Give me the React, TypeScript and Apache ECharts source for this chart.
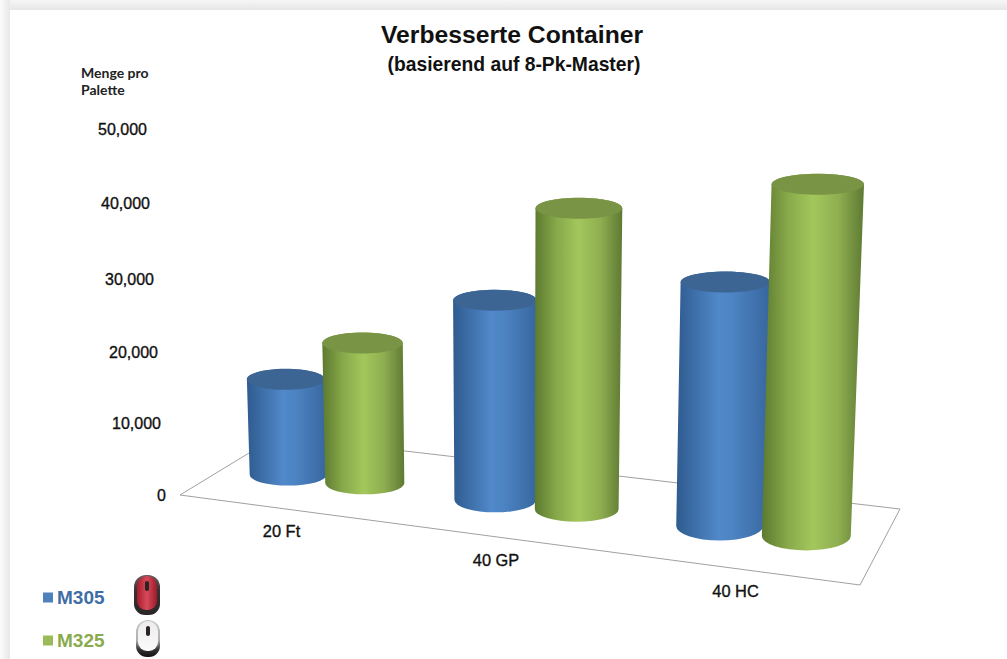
import React, { useEffect, useRef } from "react";
import * as echarts from "echarts";

const CATEGORIES = ["20 Ft", "40 GP", "40 HC"];
const M305 = [13700, 27000, 31000];
const M325 = [20200, 40700, 44700];
const Y_TICKS = [0, 10000, 20000, 30000, 40000, 50000];

// Perspective of the floor, per category
const DEPTH = [0.95, 1.01, 1.075];
const CAT_SHIFT = [8.5, 0, 9];
const FLOOR_OFFSET = [479, 504.5, 531];
const BASE_RY = [11, 12.5, 14.5];
// label nudges: [right, top] in px for each axis tick
const Y_NUDGE: Record<number, [number, number]> = {
  0: [0, 0],
  10000: [5, 2],
  20000: [8, 3.4],
  30000: [12, 3.6],
  40000: [16, 1],
  50000: [19, 0],
};
const X_NUDGE = [
  [36.5, 36],
  [40, 65],
  [18.5, 96],
];

const GRADIENTS = [
  [
    [0, "#2f5b8f"],
    [0.45, "#5088c9"],
    [0.6, "#4d84c3"],
    [1, "#37669e"],
  ],
  [
    [0, "#5c7a2f"],
    [0.25, "#88a84a"],
    [0.5, "#a3c75c"],
    [0.75, "#8fae50"],
    [1, "#5d7a33"],
  ],
];
const TOP_COLORS = ["#3d6593", "#7a9445"];
const SERIES_COLORS = ["#4f81bd", "#9bbb59"];

function renderCylinder(params: any, api: any) {
  const c = api.value(0);
  const value = api.value(1);
  const s = params.seriesIndex;
  const d = DEPTH[c];
  const zero = api.coord([c, 0]);
  const peak = api.coord([c, value]);
  const sign = s === 0 ? -1 : 1;
  const bx = zero[0] + CAT_SHIFT[c] + sign * 40.3 * d;
  const by = FLOOR_OFFSET[c] + sign * 4.6 * d;
  const h = (zero[1] - peak[1]) * d;
  const ty = by - h;
  const tx = bx + h * (bx - 510) * 0.00011;
  const rb = 39.5 * d + 1 + (s === 1 ? 1 : 0);
  const rt = rb + h * 0.005;
  const ryB = BASE_RY[c];
  const ryT = 10.5;
  const body =
    `M${tx - rt} ${ty} L${bx - rb} ${by} ` +
    `A${rb} ${ryB} 0 0 0 ${bx + rb} ${by} ` +
    `L${tx + rt} ${ty} A${rt} ${ryT} 0 0 0 ${tx - rt} ${ty} Z`;
  return {
    type: "group",
    children: [
      {
        type: "path",
        shape: { pathData: body },
        style: {
          fill: new echarts.graphic.LinearGradient(
            0,
            0,
            1,
            0,
            GRADIENTS[s].map(([offset, color]) => ({ offset: offset as number, color: color as string }))
          ),
        },
      },
      {
        type: "ellipse",
        shape: { cx: tx, cy: ty, rx: rt, ry: ryT },
        style: { fill: TOP_COLORS[s] },
      },
    ],
  };
}

function mouse(x: number, y: number, w: number, h: number, red: boolean) {
  const outer = red
    ? new echarts.graphic.LinearGradient(0, 0, 0, 1, [
        { offset: 0, color: "#6e5a5c" },
        { offset: 0.4, color: "#3a3032" },
        { offset: 1, color: "#2a2627" },
      ])
    : new echarts.graphic.LinearGradient(0, 0, 0, 1, [
        { offset: 0, color: "#c4c4c4" },
        { offset: 0.55, color: "#b0b0b0" },
        { offset: 0.8, color: "#333333" },
        { offset: 1, color: "#111111" },
      ]);
  const shell = red
    ? new echarts.graphic.LinearGradient(0, 0, 1, 0, [
        { offset: 0, color: "#a81c2e" },
        { offset: 0.5, color: "#d64a58" },
        { offset: 1, color: "#9c1a2c" },
      ])
    : new echarts.graphic.LinearGradient(0, 0, 0, 1, [
        { offset: 0, color: "#ececec" },
        { offset: 1, color: "#fbfbfb" },
      ]);
  return {
    type: "group",
    x,
    y,
    children: [
      { type: "rect", shape: { x: 0, y: 0, width: w, height: h, r: [12, 12, 11, 11] }, style: { fill: outer } },
      {
        type: "rect",
        shape: { x: red ? 3 : 2, y: 1, width: w - (red ? 6 : 4), height: h - (red ? 6 : 7), r: [10, 10, 9, 9] },
        style: { fill: shell },
      },
      { type: "rect", shape: { x: w / 2 - 2, y: 6, width: 4, height: 10, r: 2 }, style: { fill: "#2b2224" } },
    ],
  };
}

export default function App() {
  const ref = useRef<HTMLDivElement>(null);
  useEffect(() => {
    const chart = echarts.init(ref.current!, undefined, { renderer: "svg" });
    const yRich: any = {};
    Y_TICKS.forEach((t) => {
      yRich["t" + t] = {
        fontFamily: "Liberation Sans",
        fontSize: 16,
        color: "#111",
        textBorderColor: "#111",
        textBorderWidth: 0.35,
        padding: [Y_NUDGE[t][1] * 2, Y_NUDGE[t][0], 0, 0],
      };
    });
    const xRich: any = {};
    CATEGORIES.forEach((_, i) => {
      xRich["c" + i] = {
        fontFamily: "Liberation Sans",
        fontSize: 16.4,
        color: "#111",
        textBorderColor: "#111",
        textBorderWidth: 0.35,
        padding: [X_NUDGE[i][1] - 18, X_NUDGE[i][0] * 2, 0, 0],
      };
    });
    chart.setOption({
      animation: false,
      backgroundColor: "#ffffff",
      title: [
        {
          text: "Verbesserte Container",
          left: 507,
          top: 17,
          textAlign: "center",
          textStyle: { fontFamily: "Liberation Sans", fontSize: 24.7, fontWeight: "bold", color: "#111" },
        },
        {
          text: "(basierend auf 8-Pk-Master)",
          left: 509,
          top: 50,
          textAlign: "center",
          textStyle: { fontFamily: "Liberation Sans", fontSize: 19.3, fontWeight: "bold", color: "#111" },
        },
        {
          text: "Menge pro\nPalette",
          left: 76,
          top: 59,
          textStyle: { fontFamily: "Lato", fontSize: 14, fontWeight: "bold", color: "#222", lineHeight: 17 },
        },
      ],
      legend: {
        orient: "vertical",
        left: 43,
        top: 588,
        padding: 0,
        itemWidth: 10,
        itemHeight: 10,
        itemGap: 24,
        icon: "rect",
        selectedMode: false,
        data: [
          { name: "M305", textStyle: { color: "#3f6ea6" } },
          { name: "M325", textStyle: { color: "#8aab4d" } },
        ],
        textStyle: { fontFamily: "Liberation Sans", fontSize: 19, fontWeight: "bold", padding: [0, 0, 0, -1] },
      },
      grid: { left: 209, width: 654, top: 129, height: 366, outerBoundsMode: "none" },
      xAxis: {
        type: "category",
        data: CATEGORIES,
        axisLine: { show: false },
        axisTick: { show: false },
        axisLabel: {
          margin: 10,
          formatter: (v: string) => `{c${CATEGORIES.indexOf(v)}|${v}}`,
          rich: xRich,
        },
      },
      yAxis: {
        type: "value",
        min: 0,
        max: 50000,
        interval: 10000,
        axisLine: { show: false },
        axisTick: { show: false },
        splitLine: { show: false },
        axisLabel: {
          margin: 43,
          formatter: (v: number) => `{t${v}|${v.toLocaleString("en-US")}}`,
          rich: yRich,
        },
      },
      series: [
        {
          name: "M305",
          type: "custom",
          z: 3,
          clip: false,
          itemStyle: { color: SERIES_COLORS[0] },
          encode: { x: 0, y: 1 },
          data: M305.map((v, i) => [i, v]),
          renderItem: renderCylinder,
        },
        {
          name: "M325",
          type: "custom",
          z: 4,
          clip: false,
          itemStyle: { color: SERIES_COLORS[1] },
          encode: { x: 0, y: 1 },
          data: M325.map((v, i) => [i, v]),
          renderItem: renderCylinder,
        },
      ],
      graphic: [
        {
          type: "rect",
          z: 0,
          shape: { x: 0, y: 0, width: 1007, height: 10 },
          style: {
            fill: new echarts.graphic.LinearGradient(0, 0, 0, 1, [
              { offset: 0, color: "#f6f6f6" },
              { offset: 1, color: "#e6e6e6" },
            ]),
          },
        },
        {
          type: "rect",
          z: 0,
          shape: { x: 0, y: 0, width: 10, height: 659 },
          style: {
            fill: new echarts.graphic.LinearGradient(0, 0, 1, 0, [
              { offset: 0, color: "#fbfbfb" },
              { offset: 1, color: "#e8e8e8" },
            ]),
          },
        },
        {
          type: "polygon",
          z: 1,
          shape: {
            points: [
              [180, 495],
              [277, 436],
              [900, 509],
              [860, 585],
            ],
          },
          style: { fill: "#ffffff", stroke: "#a0a0a0", lineWidth: 1 },
        },
        mouse(134, 575, 26, 40, true),
        mouse(136, 620, 24, 37, false),
      ],
    });
    return () => chart.dispose();
  }, []);
  return <div ref={ref} style={{ position: "absolute", left: 0, top: 0, width: 1007, height: 659 }} />;
}
